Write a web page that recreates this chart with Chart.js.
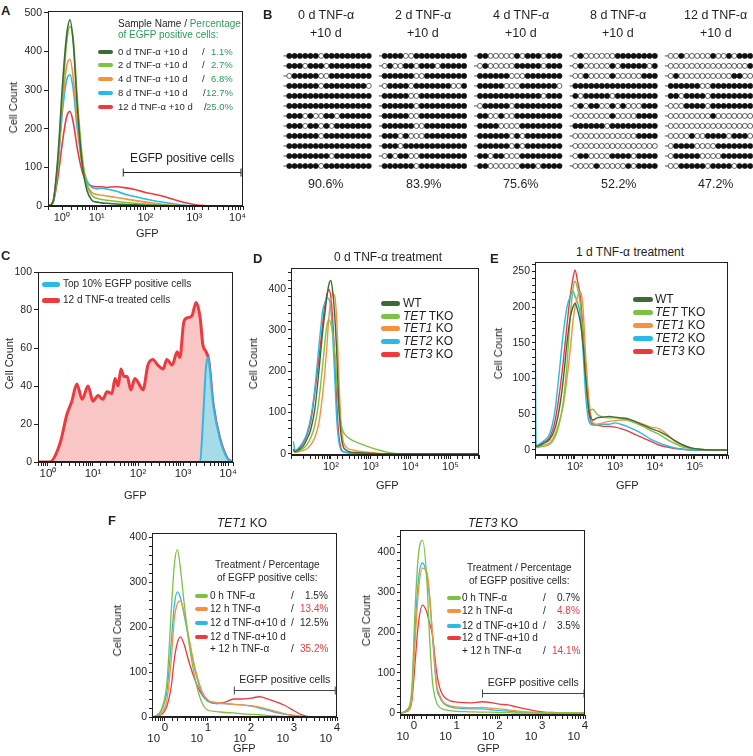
<!DOCTYPE html>
<html><head><meta charset="utf-8">
<script src="https://cdn.jsdelivr.net/npm/chart.js@4.4.1/dist/chart.umd.min.js"></script>
<style>
html,body{margin:0;padding:0}
body{width:753px;height:756px;position:relative;overflow:hidden;background:#fff;font-family:"Liberation Sans",Arial,Helvetica,sans-serif;color:#231f20}
canvas{position:absolute}
.t{position:absolute;white-space:nowrap;line-height:1}
</style></head><body>
<script>
// ---------- colours ----------
const C_DKGREEN='#3e6b35', C_LTGREEN='#7cc243', C_ORANGE='#f6913c', C_CYAN='#2bb9e7', C_RED='#ed3a3e';
const C_PCT_GREEN='#2e9a5a', INK='#231f20';

// ---------- Panel A data ----------
const aGFP=[1,1.26,1.58,2,2.4,2.82,3.31,3.98,5.01,6.31,7.94,10,12.6,15.8,25.1,39.8,63.1,100,158,251,398,631,1000,1580,3160,10000];
const a0d =[0,10,120,320,440,482,420,260,110,40,15,10,8,7,5,4,3,2,1,1,0,0,0,0,0,0];
const a2d =[0,8,100,290,420,465,430,280,130,55,28,20,17,15,12,9,7,5,3,2,1,0,0,0,0,0];
const a4d =[0,10,110,270,360,380,330,220,110,55,35,30,28,26,22,18,14,10,7,4,2,1,0,0,0,0];
const a8d =[0,10,100,250,325,340,300,200,110,65,48,45,46,44,38,30,24,18,13,9,5,2,1,0,0,0];
const a12d=[0,8,70,170,230,245,215,150,90,60,52,50,50,48,50,47,42,35,30,24,16,9,4,1,0,0];
const aSamples=['0 d TNF-α +10 d','2 d TNF-α +10 d','4 d TNF-α +10 d','8 d TNF-α +10 d','12 d TNF-α +10 d'];
const aPercents=['1.1%','2.7%','6.8%','12.7%','25.0%'];
const aTickLabels=['\u2002\u2002\u2002\u2002\u200210⁰','10¹','10²','10³','10⁴\u2002\u2002'];

// ---------- Panel B data (1 = methylated, 0 = unmethylated) ----------
const bTitles=['0 d TNF-α','2 d TNF-α','4 d TNF-α','8 d TNF-α','12 d TNF-α'];
const bSub='+10 d';
const bPercents=['90.6%','83.9%','75.6%','52.2%','47.2%'];
const bPattern0d=['1111110111111111','1110111011111111','0111110011111111','1111110111111110','1111111111111111','1111111111111111','1110100110111111','1110110101111111','1111110111111111','1111111111111111','1111111101111111','1111110111111111'];
const bPattern2d=['1111001111111111','0100110111011111','1111110011111111','0111101111111001','1111100111111111','1111110111111111','1111100111111111','1111110011111111','1110100011111111','1110111111111111','0101100111111111','1111110111111111'];
const bPattern4d=['1100000101110111','0100000111110111','1111110001111111','1111100011111110','1111111111110111','0111110111111111','1100100111111111','1111000011111111','1111110101111111','1111110101111111','1101100011111111','1100000011101111'];
const bPattern8d=['0100000011111111','0100000101111101','0010000100000111','1111111111111111','1011111011111111','0101100101000111','0000000100001111','1111110111111111','0000000000001111','0000000000000000','0110000111101111','0000100000101111'];
const bPattern12d=['0010000010010111','0000000000000001','0100000000001100','1111110011111111','1101111011111111','0001111011111111','0000000010000000','0000000000000000','0000100111101110','0111100001111111','0111110000111111','0011111011110111'];

// ---------- Panel C data ----------
const cGFP=[0.6,1.1,1.86,2.63,3.39,4.37,5.75,7.76,10,12.9,16.6,20.4,26.3,30.9,36.3,41.7,49,57.5,69.2,85.1,100,129,166,214,275,363,437,575,741,851,1047,1288,1585,1950,2400,2750,3240,3630,3800,4680,6610,9550,12300];
const cTreated12d=[0,0,10,25,32,41,33,40,32,35,33,37,36,44,40,49,45,45,38,44,42,38,51,54,51,49,54,51,58,55,74,76,77,84,76,62,58,55,52,30,12,2,0];
const cTop10=[0,0,0,0,0,0,0,0,0,0,0,0,0,0,0,0,0,0,0,0,0,0,0,0,0,0,0,0,0,0,0,0,0,0,0,20,50,55,52,30,12,2,0];
const cLegend=['Top 10% EGFP positive cells','12 d TNF-α treated cells'];
const cTickLabels=['10⁰','10¹','10²','10³','10⁴'];

// ---------- Panel D data ----------
const dGFP=[11.5,12.6,15.8,20,25.1,31.6,39.8,50.1,63.1,70.8,79.4,89.1,100,112,126,141,158,178,200,251,316,398,631,1000,1580,2510,3980,10000,500000];
const dWT  =[10,5,10,18,35,60,110,200,300,340,380,410,420,390,330,240,120,50,20,8,4,3,2,1,0,0,0,0,0];
const dTKO =[8,4,8,12,22,40,70,130,220,270,310,325,315,290,240,170,110,75,55,42,35,30,22,15,9,4,1,0,0];
const dTET1=[6,4,5,8,12,22,40,75,150,200,260,330,370,388,380,320,190,80,35,15,10,8,5,3,1,0,0,0,0];
const dTET2=[30,8,15,28,50,90,160,260,350,365,378,375,350,280,180,80,30,10,5,3,2,1,0,0,0,0,0,0,0];
const dTET3=[12,6,12,25,45,80,150,230,320,360,385,398,380,320,230,120,45,15,6,3,2,1,0,0,0,0,0,0,0];
const koLegend=['WT','<i>TET</i> TKO','<i>TET1</i> KO','<i>TET2</i> KO','<i>TET3</i> KO'];
const deTickLabels=['','','10²','10³','10⁴','10⁵'];

// ---------- Panel E data ----------
const eGFP=[10,10.7,12.6,15.8,23.4,31.6,39.8,50.1,63.1,75.9,89.1,100,117,135,158,186,224,282,355,501,708,1000,1410,2000,3160,5010,7940,12600,20000,31600,50100,79400,126000,251000,631000];
const eWT  =[12,5,6,9,15,30,55,95,150,185,200,205,195,180,150,100,55,42,45,46,47,46,45,44,40,35,30,26,20,13,7,3,1,0,0];
const eTKO =[10,3,4,5,8,18,35,65,120,185,225,236,225,205,160,100,55,57,50,46,45,45,44,42,38,33,27,22,15,9,4,2,1,0,0];
const eTET1=[10,4,5,7,10,22,38,60,100,140,180,200,215,222,200,130,70,38,36,38,40,41,42,42,40,36,32,30,22,12,6,3,1,0,0];
const eTET2=[230,5,8,12,23,55,105,160,200,215,222,215,205,190,140,75,40,35,35,36,36,38,36,33,28,22,15,10,6,3,1,0,0,0,0];
const eTET3=[12,5,7,10,18,40,75,120,175,215,240,252,235,215,170,100,50,36,35,33,33,32,30,27,22,17,12,7,4,2,1,0,0,0,0];

// ---------- Panel F data ----------
const fTreatments=['0 h TNF-α','12 h TNF-α','12 d TNF-α+10 d','12 d TNF-α+10 d'];
const fTreatment4b='+ 12 h TNF-α';
const fTickExp=['0','1','2','3','4'];
const fLeftGFP=[0.5,0.63,0.89,1.12,1.41,1.66,1.95,2.29,2.82,3.55,4.47,5.62,7.41,10,15.8,25.1,39.8,63.1,100,158,251,398,631,1000,1585,2512,3981,10000];
const fL0h    =[0,3,25,80,240,340,372,330,250,170,110,65,30,15,12,10,9,7,6,5,3,2,1,0,0,0,0,0];
const fL12h   =[0,2,12,40,130,220,252,258,230,180,130,90,55,38,32,30,28,27,25,22,17,12,7,4,1,0,0,0];
const fL12d   =[0,3,20,60,170,250,278,265,225,175,125,85,50,35,30,30,28,27,24,20,15,10,6,3,1,0,0,0];
const fL12d12h=[0,1,8,25,70,130,165,178,160,125,95,70,48,35,30,33,40,40,42,45,40,33,25,14,4,0,0,0];
const fLeftPercents=['1.5%','13.4%','12.5%','35.2%'];
const fRightGFP=[0.47,0.71,0.89,1.05,1.26,1.58,2,2.29,2.69,3.39,3.98,4.9,7.08,10,20,39.8,63.1,100,158,251,398,631,1000,2000,3981,10000];
const fR0h    =[0,10,60,250,390,430,330,195,80,25,14,9,6,4,3,2,2,1,1,0,0,0,0,0,0,0];
const fR12h   =[0,6,40,170,300,360,350,300,200,70,45,26,18,15,13,14,12,10,8,5,3,2,1,0,0,0];
const fR12d   =[0,8,50,200,330,373,340,290,195,63,40,24,15,12,10,10,8,6,5,3,2,1,0,0,0,0];
const fR12d12h=[0,5,30,120,220,268,250,225,195,100,63,42,30,27,25,28,26,22,20,15,10,6,3,1,0,0];
const fRightPercents=['0.7%','4.8%','3.5%','14.1%'];
const fPctColors=[INK,C_RED,INK,C_RED];

// ================= helpers =================
Chart.defaults.font.family='"Liberation Sans", Arial, sans-serif';
Chart.defaults.color=INK;
Chart.defaults.animation=false;

function txt(html,x,y,o={}){
  const d=document.createElement('div'); d.className='t'; d.innerHTML=html;
  d.style.fontSize=(o.size||11)+'px';
  if(o.bold) d.style.fontWeight='bold';
  if(o.color) d.style.color=o.color;
  if(o.rot){ d.style.writingMode='vertical-rl'; d.style.transform='rotate(180deg)'; }
  document.body.appendChild(d);
  const w=d.offsetWidth,h=d.offsetHeight;
  const left=o.align==='l'?x:(o.align==='r'?x-w:x-w/2);
  d.style.left=Math.round(left)+'px'; d.style.top=Math.round(y-h/2)+'px';
  return d;
}
function swatch(x1,x2,y,color,th){
  const d=document.createElement('div');
  d.style.cssText='position:absolute;left:'+x1+'px;top:'+(y-th/2)+'px;width:'+(x2-x1)+'px;height:'+th+'px;border-radius:'+(th/2)+'px;background:'+color;
  document.body.appendChild(d);
}
const boxPlugin={id:'box',afterDraw(ch){const a=ch.chartArea,ctx=ch.ctx;ctx.save();ctx.strokeStyle=INK;ctx.lineWidth=1;
  ctx.strokeRect(Math.round(a.left)+0.5,Math.round(a.top)+0.5,Math.round(a.right-a.left)-1,Math.round(a.bottom-a.top)-1);ctx.restore();}};
const bracketPlugin={id:'bracket',afterDatasetsDraw(ch,args,o){
  if(!o||!o.label)return; const ctx=ch.ctx,xs=ch.scales.x,ys=ch.scales.y;
  const x1=xs.getPixelForValue(o.from),x2=xs.getPixelForValue(o.to),y=Math.round(ys.getPixelForValue(o.y))+0.5;
  ctx.save();ctx.strokeStyle=o.color;ctx.lineWidth=1;ctx.beginPath();
  ctx.moveTo(x1,y);ctx.lineTo(x2,y);ctx.moveTo(x1,y-o.cap);ctx.lineTo(x1,y+o.cap);ctx.moveTo(x2,y-o.cap);ctx.lineTo(x2,y+o.cap);ctx.stroke();
  ctx.fillStyle=INK;ctx.font=o.size+'px "Liberation Sans", Arial, sans-serif';ctx.textAlign='center';ctx.textBaseline='middle';
  ctx.fillText(o.label,(x1+x2)/2+(o.dx||0),y-o.gap);ctx.restore();}};

function plot(rect,o){
  const [L,T,R,B]=rect,padL=46,padT=10,padR=24,padB=36;
  const c=document.createElement('canvas');
  c.width=R-L+padL+padR;c.height=B-T+padT+padB;
  c.style.left=(L-padL)+'px';c.style.top=(T-padT)+'px';
  document.body.appendChild(c);
  const st=o.yMinor||o.yStep;
  return new Chart(c,{type:'scatter',
    data:{datasets:o.series.map(s=>({data:o.x.map((x,i)=>({x,y:s.y[i]})),showLine:true,pointRadius:0,
      borderColor:s.color,borderWidth:s.width||o.lw||1.5,backgroundColor:s.fill||'rgba(0,0,0,0)',fill:s.fill?'origin':false,
      cubicInterpolationMode:'monotone'}))},
    options:{responsive:false,animation:false,events:[],
      layout:{padding:{left:0,top:padT,right:padR,bottom:0}},
      plugins:{legend:{display:false},tooltip:{enabled:false},bracket:o.bracket||false},
      scales:{
        x:{type:'logarithmic',min:o.xmin,max:o.xmax,afterFit(s){s.height=padB;},
          border:{color:INK,width:1},grid:{drawOnChartArea:false,tickLength:4,tickColor:INK},
          ticks:{autoSkip:false,maxRotation:0,minRotation:0,padding:o.xPad||1,color:INK,font:{size:o.xFont||11,lineHeight:o.xLH||1.2},
            callback(v){const e=Math.log10(v),r=Math.round(e);return (Math.abs(e-r)<1e-6&&o.xLabels[r]!==undefined)?o.xLabels[r]:'';}}},
        y:{type:'linear',min:o.ymin,max:o.ymax,afterFit(s){s.width=padL;},
          afterBuildTicks(s){const t=[];for(let k=Math.ceil(o.ymin/st);k*st<=o.ymax+1e-9;k++)t.push({value:k*st});s.ticks=t;},
          border:{color:INK,width:1},grid:{drawOnChartArea:false,tickLength:o.yMinor?3:4,tickColor:INK},
          ticks:{autoSkip:false,padding:2,color:INK,font:{size:o.yFont||10.5},
            callback(v){const k=Math.round(v/o.yStep)*o.yStep;return Math.abs(k-v)<1e-6?String(k):'';}}}
      }},
    plugins:[boxPlugin,bracketPlugin]});
}
const fiveCols=[C_DKGREEN,C_LTGREEN,C_ORANGE,C_CYAN,C_RED];
const fourCols=[C_LTGREEN,C_ORANGE,C_CYAN,C_RED];

// ================= Panel A =================
txt('A',5,10,{size:13,bold:true});
plot([48,11,243,206],{x:aGFP,series:[a0d,a2d,a4d,a8d,a12d].map((y,i)=>({y,color:fiveCols[i]})),
  xmin:1,xmax:10000,ymin:0,ymax:505,yStep:100,xLabels:aTickLabels,lw:1.6,yFont:10.5,xFont:11,
  bracket:{from:35,to:9100,y:88,label:'EGFP positive cells',size:12,gap:14,cap:4,color:INK}});
txt('Cell Count',13,107,{size:11,rot:true});
txt('GFP',147,233,{size:11});
txt('Sample Name / <span style="color:'+C_PCT_GREEN+'">Percentage</span>',118,24,{size:10,align:'l'});
txt('of EGFP positive cells:',118,35,{size:10,align:'l',color:C_PCT_GREEN});
const aRowY=[52,65,79,93,107], aSlashX=[203,203,203,204,205];
aSamples.forEach((s,i)=>{swatch(98,113,aRowY[i],fiveCols[i],4);txt(s,118,aRowY[i],{size:9.5,align:'l'});
  txt('/',aSlashX[i],aRowY[i],{size:9.5});txt(aPercents[i],233,aRowY[i],{size:9.5,align:'r',color:C_PCT_GREEN});});

// ================= Panel B =================
txt('B',267,14,{size:13,bold:true});
(function(){
  const pats=[bPattern0d,bPattern2d,bPattern4d,bPattern8d,bPattern12d];
  const filled=[],open=[],rows=[];
  pats.forEach((p,g)=>p.forEach((row,r)=>{
    rows.push({x:g*18-1.1,y:r},{x:g*18+15,y:r},{x:g*18+15.5,y:null});
    [...row].forEach((ch,i)=>(ch==='1'?filled:open).push({x:g*18+i,y:r}));
  }));
  const c=document.createElement('canvas');c.width=492;c.height=140;c.style.left='274px';c.style.top='40px';document.body.appendChild(c);
  new Chart(c,{type:'scatter',data:{datasets:[
    {data:filled,pointRadius:2.6,pointBackgroundColor:'#111',pointBorderColor:'#111',pointBorderWidth:0.6,order:1},
    {data:open,pointRadius:2.5,pointBackgroundColor:'#fff',pointBorderColor:'#222',pointBorderWidth:0.7,order:1},
    {data:rows,showLine:true,spanGaps:false,pointRadius:0,borderColor:'#222',borderWidth:0.8,order:2}]},
    options:{responsive:false,animation:false,events:[],layout:{padding:0},plugins:{legend:{display:false},tooltip:{enabled:false}},
      scales:{x:{type:'linear',min:-2,max:89.1,display:false},y:{type:'linear',min:-1.12,max:11.93,reverse:true,display:false}}}});
  bTitles.forEach((t,g)=>{const cx=325.5+g*97.5;txt(t,cx,15,{size:12.5});txt(bSub,cx,33,{size:12.5});txt(bPercents[g],cx,184,{size:12.5});});
})();

// ================= Panel C =================
txt('C',5,255,{size:13,bold:true});
plot([38,272,233,462],{x:cGFP,series:[{y:cTop10,color:C_CYAN,fill:'#a8dbe8',width:2},{y:cTreated12d,color:C_RED,fill:'#f8c6c5',width:3}],
  xmin:0.6,xmax:12900,ymin:0,ymax:100,yStep:20,xLabels:cTickLabels,xFont:11.5});
txt('Cell Count',9,363,{size:11,rot:true});
txt('GFP',135,495,{size:11});
swatch(42,60,284,C_CYAN,5);txt(cLegend[0],63,284,{size:10,align:'l'});
swatch(42,60,300,C_RED,5);txt(cLegend[1],63,300,{size:10,align:'l'});

// ================= Panel D =================
txt('D',257,258,{size:13,bold:true});
txt('0 d TNF-α treatment',388,257,{size:12});
plot([291,268,479,455],{x:dGFP,series:[dWT,dTKO,dTET1,dTET2,dTET3].map((y,i)=>({y,color:fiveCols[i]})),
  xmin:10,xmax:520000,ymin:-3,ymax:450,yStep:100,yMinor:20,xLabels:deTickLabels,lw:1.4});
txt('Cell Count',253,363,{size:11,rot:true});
txt('GFP',387,485,{size:11});
[303,316,328,341,354].forEach((y,i)=>{swatch(381,400,y,fiveCols[i],5);txt(koLegend[i],403,y,{size:12,align:'l'});});

// ================= Panel E =================
txt('E',494,258,{size:13,bold:true});
txt('1 d TNF-α treatment',630,252,{size:12});
plot([535,262,728,455],{x:eGFP,series:[eWT,eTKO,eTET1,eTET2,eTET3].map((y,i)=>({y,color:fiveCols[i]})),
  xmin:10,xmax:670000,ymin:-7,ymax:263,yStep:50,yMinor:10,xLabels:deTickLabels,lw:1.4});
txt('Cell Count',498,353,{size:11,rot:true});
txt('GFP',627,485,{size:11});
[299,312,325,338,351].forEach((y,i)=>{swatch(633,653,y,fiveCols[i],5);txt(koLegend[i],655,y,{size:12,align:'l'});});

// ================= Panel F =================
txt('F',112,520,{size:13,bold:true});
const fTickLabels=fTickExp.map(e=>[e,'10       ']);
function fPanel(rect,gfp,ser,ymin,ymax,bracket){
  plot(rect,{x:gfp,series:ser.map((y,i)=>({y,color:fourCols[i]})),xmin:gfp[0],xmax:10000,ymin,ymax,yStep:100,yMinor:20,
    xLabels:fTickLabels,xFont:11.5,xLH:1,lw:1.3,yFont:10.5,bracket});
}
fPanel([152,533,337,717],fLeftGFP,[fL0h,fL12h,fL12d,fL12d12h],0,409,{from:41,to:9100,y:60,label:'EGFP positive cells',size:10.5,gap:10,cap:4,color:'#444'});
fPanel([400,530,585,715],fRightGFP,[fR0h,fR12h,fR12d,fR12d12h],-5,455,{from:40,to:9500,y:50,label:'EGFP positive cells',size:10.5,gap:10,cap:4,color:'#444'});
txt('<i>TET1</i> KO',242,523,{size:12});
txt('<i>TET3</i> KO',493,523,{size:12});
txt('Cell Count',117,630,{size:11,rot:true});
txt('Cell Count',366,620,{size:11,rot:true});
txt('GFP',244,748,{size:11});
txt('GFP',488,748,{size:11});
function fLegend(cx,hy,rowsY,sx1,sx2,tx,slashX,pctR,pcts){
  txt('Treatment / Percentage',cx,hy,{size:10});
  txt('of EGFP positive cells:',cx,hy+12.5,{size:10});
  fTreatments.forEach((t,i)=>{swatch(sx1,sx2,rowsY[i],fourCols[i],4.5);txt(t,tx,rowsY[i],{size:10,align:'l'});
    const py=i===3?rowsY[4]:rowsY[i];
    txt('/',slashX,py,{size:10});txt(pcts[i],pctR,py,{size:10,align:'r',color:fPctColors[i]});});
  txt(fTreatment4b,tx,rowsY[4],{size:10,align:'l'});
}
fLegend(267,565,[596,609,623,637,649],195,208,210,292,328,fLeftPercents);
fLegend(519,568,[598,611,626,638,651],447,461,462,544,580,fRightPercents);
</script>
</body></html>
